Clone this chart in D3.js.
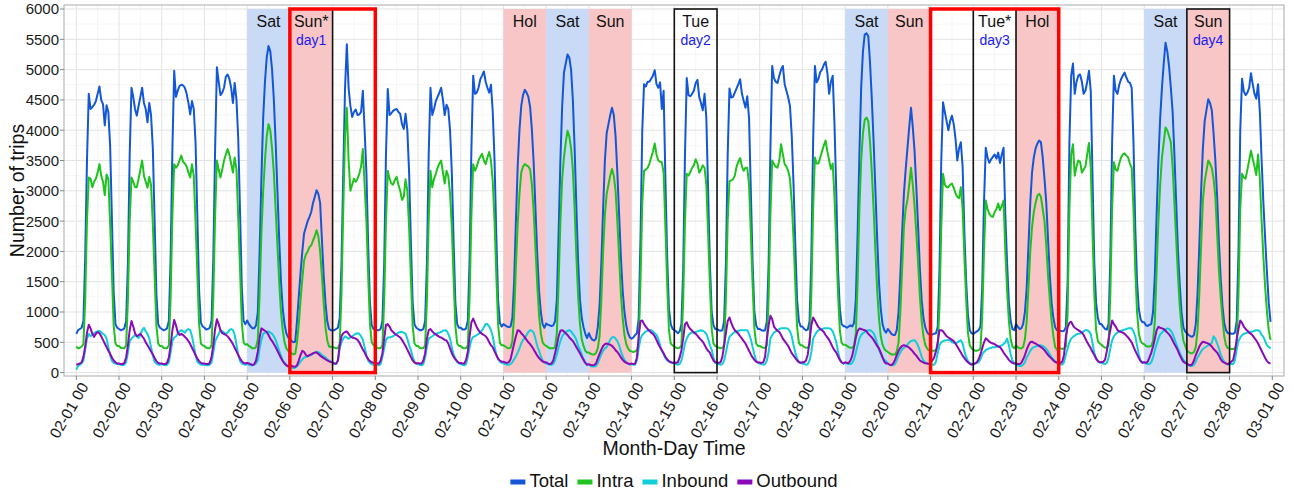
<!DOCTYPE html>
<html>
<head>
<meta charset="utf-8">
<script src="https://cdn.jsdelivr.net/npm/d3@7/dist/d3.min.js"></script>
<style>
  body { margin: 0; background: #fff; }
  text { font-family: "Liberation Sans", Arial, Helvetica, sans-serif; }
</style>
</head>
<body>
<script>
// hourly values, one row per day, 02-01 .. 02-28
var total = [
  640, 700, 720, 740, 850, 1900, 3500, 4600, 4350, 4380, 4420, 4480, 4600, 4720, 4500, 4430, 4080, 4410, 4300, 3750, 2550, 1330, 800, 740,
  720, 700, 710, 730, 850, 1800, 3600, 4700, 4550, 4350, 4240, 4400, 4550, 4700, 4450, 4350, 4130, 4450, 4250, 3700, 2500, 1300, 800, 740,
  720, 700, 710, 730, 850, 1900, 3700, 4980, 4550, 4650, 4730, 4750, 4740, 4700, 4600, 4450, 4260, 4480, 4350, 3800, 2600, 1350, 820, 760,
  740, 710, 720, 740, 860, 1900, 3700, 5040, 4800, 4580, 4620, 4700, 4880, 4920, 4850, 4700, 4450, 4780, 4500, 3850, 2650, 1400, 850, 800,
  860, 800, 760, 730, 730, 780, 1000, 2000, 3200, 4200, 4800, 5200, 5390, 5300, 5000, 4500, 3800, 3000, 2200, 1500, 1050, 800, 650, 580,
  560, 520, 500, 510, 850, 1250, 1650, 2000, 2300, 2400, 2500, 2570, 2650, 2800, 2900, 3010, 2950, 2800, 2200, 1600, 1150, 850, 720, 700,
  700, 700, 720, 740, 900, 1800, 3300, 4700, 5420, 4700, 4400, 4220, 4300, 4340, 4250, 4260, 4300, 4650, 4000, 3300, 2100, 1150, 780, 720,
  720, 700, 700, 720, 850, 1800, 3600, 4680, 4250, 4280, 4320, 4340, 4350, 4300, 4270, 4100, 4020, 4270, 4000, 3300, 2150, 1150, 800, 740,
  720, 700, 700, 720, 850, 1800, 3600, 4700, 4250, 4350, 4480, 4550, 4620, 4700, 4500, 4250, 4420, 4350, 4000, 3300, 2150, 1150, 800, 740,
  740, 710, 710, 730, 860, 1900, 3700, 4900, 4600, 4620, 4700, 4840, 4900, 4970, 4800, 4700, 4620, 4750, 4300, 3500, 2250, 1200, 820, 760,
  800, 780, 760, 750, 760, 900, 1500, 2500, 3400, 4000, 4400, 4580, 4665, 4620, 4550, 4380, 4000, 3450, 2700, 1950, 1350, 1000, 800, 740,
  810, 790, 780, 770, 780, 850, 1200, 2300, 3500, 4400, 4950, 5100, 5250, 5200, 5000, 4500, 3700, 2700, 1800, 1200, 900, 750, 640, 570,
  650, 580, 540, 530, 560, 750, 1100, 1800, 2700, 3500, 3950, 4100, 4250, 4370, 4250, 3900, 3300, 2600, 1900, 1350, 1000, 780, 650, 580,
  560, 580, 620, 650, 900, 2200, 4000, 4760, 4720, 4800, 4800, 4850, 4900, 4990, 4760, 4700, 4790, 4350, 4650, 3200, 1900, 1050, 800, 720,
  700, 680, 650, 680, 800, 1700, 3600, 4860, 4580, 4560, 4600, 4650, 4780, 4830, 4550, 4450, 4330, 4600, 4200, 3000, 1800, 1000, 780, 720,
  720, 700, 690, 700, 850, 1800, 3600, 4690, 4540, 4550, 4620, 4690, 4760, 4840, 4600, 4480, 4370, 4560, 4200, 3000, 1800, 1000, 780, 720,
  720, 700, 690, 700, 850, 1800, 3700, 5060, 4860, 4800, 4780, 4900, 5000, 5060, 4760, 4650, 4540, 4400, 3900, 3100, 2100, 1200, 850, 760,
  760, 720, 700, 710, 850, 1900, 3800, 5060, 4790, 4850, 4960, 5000, 5080, 5130, 4950, 4600, 4800, 4900, 4100, 3000, 1700, 1050, 800, 770,
  760, 740, 760, 780, 760, 820, 1200, 2300, 3600, 4700, 5300, 5580, 5600, 5550, 5100, 4500, 3800, 3000, 2200, 1500, 1050, 800, 700, 660,
  720, 680, 640, 620, 620, 700, 1000, 1600, 2300, 2950, 3350, 3700, 4050, 4370, 4050, 3650, 3050, 2400, 1700, 1200, 900, 750, 670, 630,
  620, 630, 640, 650, 750, 1700, 3500, 4460, 4300, 4150, 4000, 4150, 4240, 4100, 3860, 3500, 3700, 3800, 3400, 2300, 1500, 950, 700, 650,
  640, 660, 680, 700, 760, 1400, 2800, 3710, 3550, 3460, 3520, 3560, 3600, 3530, 3630, 3460, 3600, 3710, 2600, 1800, 1150, 850, 720, 700,
  800, 760, 720, 730, 800, 1000, 1400, 2100, 2800, 3300, 3550, 3700, 3780, 3830, 3800, 3550, 3200, 2800, 2200, 1600, 1150, 900, 750, 700,
  700, 690, 680, 690, 750, 1500, 3800, 4900, 5100, 4600, 4800, 4900, 4920, 4800, 4600, 4650, 4800, 4980, 4650, 3200, 1800, 1150, 900, 800,
  800, 760, 720, 710, 800, 1900, 3800, 4900, 4650, 4600, 4750, 4840, 4900, 4950, 4870, 4800, 4780, 4700, 3800, 2400, 1500, 1050, 880, 830,
  830, 780, 770, 790, 800, 1000, 1600, 2600, 3500, 4200, 4700, 5100, 5445, 5300, 5050, 4700, 4300, 3600, 2800, 2000, 1450, 1000, 750, 680,
  650, 620, 600, 590, 620, 800, 1300, 2100, 3000, 3700, 4150, 4330, 4510, 4450, 4330, 3950, 3500, 2900, 2150, 1550, 1100, 820, 700, 650,
  650, 640, 640, 660, 850, 2000, 4000, 4850, 4640, 4580, 4620, 4700, 4940, 4760, 4600, 4520, 4760, 4300, 3500, 2800, 2200, 1650, 1150, 836
];
var intra = [
  430, 400, 410, 430, 470, 1200, 2500, 3220, 3200, 3060, 3150, 3200, 3300, 3440, 3250, 3150, 2930, 3270, 3200, 2470, 1630, 780, 480, 440,
  440, 410, 400, 400, 450, 1200, 2500, 3220, 3150, 3060, 3060, 3200, 3350, 3500, 3250, 3150, 3050, 3230, 3100, 2450, 1600, 780, 480, 440,
  440, 410, 400, 400, 450, 1250, 2600, 3440, 3380, 3420, 3500, 3580, 3480, 3450, 3400, 3300, 3220, 3440, 3250, 2500, 1650, 800, 480, 450,
  440, 410, 400, 400, 450, 1250, 2600, 3500, 3350, 3220, 3350, 3500, 3600, 3690, 3600, 3450, 3300, 3550, 3350, 2550, 1700, 820, 500, 460,
  470, 440, 420, 400, 400, 420, 550, 1300, 2300, 3000, 3500, 3900, 4100, 4000, 3700, 3300, 2700, 2100, 1500, 1000, 700, 500, 400, 360,
  340, 320, 300, 310, 500, 800, 1200, 1550, 1850, 1950, 2000, 2070, 2100, 2180, 2250, 2350, 2250, 2000, 1600, 1150, 750, 530, 430, 420,
  430, 410, 400, 400, 480, 1300, 2700, 3900, 4370, 3500, 3000, 3100, 3200, 3150, 3200, 3280, 3400, 3690, 3100, 2500, 1600, 800, 500, 450,
  440, 410, 400, 400, 450, 1200, 2500, 3330, 3200, 3120, 3100, 3180, 3230, 3100, 3000, 2850, 2900, 3190, 3000, 2400, 1550, 770, 480, 440,
  440, 410, 400, 400, 450, 1200, 2500, 3330, 3060, 3200, 3280, 3380, 3450, 3500, 3300, 3120, 3330, 3250, 2950, 2400, 1550, 770, 480, 440,
  440, 410, 400, 400, 450, 1250, 2600, 3440, 3330, 3400, 3500, 3560, 3610, 3500, 3440, 3550, 3640, 3500, 3150, 2500, 1600, 790, 490, 450,
  450, 430, 410, 400, 410, 520, 950, 1750, 2450, 2950, 3300, 3400, 3440, 3420, 3400, 3350, 3100, 2650, 2050, 1450, 950, 650, 500, 460,
  440, 420, 400, 400, 400, 420, 650, 1500, 2500, 3200, 3550, 3800, 3990, 3900, 3700, 3350, 2700, 1900, 1250, 800, 550, 440, 360, 330,
  330, 310, 300, 300, 320, 400, 600, 1200, 2000, 2600, 2950, 3100, 3250, 3360, 3250, 3000, 2500, 1900, 1300, 900, 620, 470, 400, 360,
  350, 340, 350, 370, 480, 1500, 2800, 3330, 3350, 3380, 3450, 3550, 3650, 3780, 3600, 3500, 3480, 3470, 3300, 2400, 1450, 700, 480, 450,
  430, 410, 400, 410, 450, 1200, 2500, 3280, 3250, 3310, 3380, 3420, 3520, 3450, 3300, 3350, 3420, 3380, 3100, 2300, 1450, 720, 480, 440,
  430, 410, 400, 410, 450, 1200, 2500, 3160, 3170, 3190, 3250, 3400, 3480, 3540, 3400, 3330, 3380, 3380, 3100, 2300, 1450, 720, 480, 440,
  440, 420, 410, 410, 450, 1250, 2600, 3500, 3440, 3400, 3380, 3500, 3770, 3600, 3440, 3400, 3330, 3200, 2800, 2200, 1450, 750, 490, 450,
  450, 420, 410, 410, 460, 1300, 2700, 3550, 3450, 3450, 3550, 3650, 3750, 3830, 3650, 3500, 3360, 3450, 2900, 2100, 1300, 700, 490, 460,
  460, 440, 420, 410, 410, 440, 650, 1500, 2700, 3500, 3950, 4170, 4210, 4150, 3800, 3300, 2700, 2000, 1350, 900, 600, 460, 390, 360,
  340, 320, 300, 300, 300, 350, 500, 1000, 1700, 2400, 2700, 2850, 3100, 3380, 3100, 2750, 2300, 1800, 1250, 850, 600, 460, 400, 370,
  370, 360, 360, 370, 420, 1100, 2400, 3280, 3100, 3060, 3060, 3100, 3120, 3050, 2960, 2900, 2880, 3060, 2700, 1900, 1200, 650, 450, 400,
  380, 360, 360, 370, 400, 900, 2000, 2840, 2700, 2620, 2580, 2570, 2650, 2700, 2790, 2680, 2750, 2840, 2000, 1350, 850, 550, 430, 400,
  450, 420, 400, 400, 420, 550, 850, 1400, 2000, 2400, 2650, 2800, 2920, 2950, 2900, 2700, 2500, 2100, 1600, 1200, 850, 600, 420, 380,
  420, 400, 390, 400, 430, 1000, 2700, 3600, 3770, 3250, 3400, 3500, 3480, 3300, 3350, 3400, 3600, 3790, 3380, 2300, 1300, 700, 520, 480,
  460, 430, 410, 410, 450, 1300, 2700, 3470, 3350, 3330, 3450, 3550, 3600, 3620, 3580, 3550, 3450, 3380, 2700, 1700, 1000, 650, 520, 480,
  470, 440, 430, 430, 440, 520, 850, 1700, 2500, 3100, 3550, 3800, 4045, 4000, 3900, 3800, 3400, 2800, 2200, 1600, 1100, 750, 530, 450,
  360, 340, 320, 320, 340, 420, 700, 1300, 2100, 2850, 3150, 3330, 3500, 3450, 3380, 3200, 2900, 2300, 1700, 1250, 900, 600, 450, 400,
  400, 390, 390, 400, 460, 1300, 2700, 3280, 3220, 3200, 3350, 3500, 3660, 3530, 3400, 3260, 3600, 3200, 2500, 1900, 1400, 1000, 700, 540
];
var inbound = [
  50, 110, 130, 150, 200, 380, 560, 640, 600, 620, 650, 670, 680, 690, 660, 640, 620, 560, 420, 290, 190, 160, 150, 140,
  140, 130, 120, 130, 170, 330, 520, 560, 590, 620, 600, 570, 620, 700, 740, 680, 640, 560, 420, 280, 180, 150, 130, 130,
  140, 130, 120, 130, 170, 330, 520, 580, 600, 640, 680, 700, 680, 660, 700, 720, 700, 600, 450, 290, 180, 150, 130, 130,
  130, 120, 120, 130, 170, 330, 520, 580, 640, 700, 680, 660, 640, 660, 700, 720, 700, 620, 460, 300, 190, 150, 140, 130,
  140, 130, 120, 120, 130, 150, 200, 400, 540, 640, 660, 670, 680, 660, 640, 600, 540, 450, 360, 280, 200, 160, 130, 110,
  100, 80, 70, 80, 100, 140, 180, 220, 250, 260, 270, 280, 290, 310, 330, 345, 340, 320, 290, 270, 250, 220, 200, 180,
  160, 140, 140, 200, 400, 500, 560, 600, 580, 560, 580, 600, 620, 640, 650, 640, 600, 540, 420, 290, 200, 160, 140, 130,
  140, 130, 120, 140, 260, 400, 540, 580, 580, 590, 600, 620, 640, 660, 670, 670, 660, 640, 560, 450, 370, 260, 180, 145,
  140, 130, 120, 140, 250, 420, 560, 580, 600, 620, 640, 650, 660, 670, 690, 700, 690, 640, 560, 420, 300, 230, 170, 150,
  140, 130, 120, 140, 260, 420, 540, 590, 600, 620, 640, 660, 700, 750, 800, 800, 760, 700, 600, 430, 300, 220, 180, 160,
  150, 140, 130, 130, 140, 170, 220, 270, 330, 400, 480, 540, 570, 620, 670, 700, 690, 660, 560, 440, 360, 270, 200, 170,
  150, 140, 130, 130, 140, 200, 300, 420, 520, 600, 640, 670, 690, 700, 680, 640, 600, 540, 440, 380, 300, 220, 160, 130,
  130, 110, 100, 100, 110, 150, 230, 300, 360, 400, 420, 480, 540, 580, 590, 560, 520, 450, 350, 270, 210, 170, 150, 130,
  140, 130, 130, 200, 400, 560, 620, 650, 680, 690, 700, 700, 680, 650, 620, 560, 450, 360, 300, 240, 200, 180, 170, 160,
  150, 140, 130, 140, 200, 330, 480, 560, 620, 650, 660, 670, 670, 680, 690, 700, 690, 670, 640, 560, 450, 380, 250, 160,
  150, 140, 130, 140, 200, 330, 480, 590, 620, 650, 670, 680, 690, 700, 700, 700, 700, 700, 640, 550, 420, 300, 200, 160,
  150, 140, 130, 140, 200, 340, 560, 620, 660, 680, 700, 720, 730, 730, 730, 730, 720, 680, 600, 450, 330, 230, 180, 160,
  150, 140, 130, 140, 200, 340, 560, 620, 670, 700, 710, 720, 730, 730, 730, 730, 720, 680, 600, 500, 350, 220, 170, 150,
  160, 150, 140, 140, 160, 220, 330, 450, 560, 620, 650, 670, 690, 700, 700, 680, 650, 580, 480, 380, 310, 250, 210, 190,
  150, 130, 120, 120, 140, 200, 280, 330, 380, 410, 430, 460, 500, 520, 530, 535, 500, 440, 360, 260, 200, 170, 150, 140,
  140, 130, 130, 180, 320, 450, 500, 520, 530, 535, 540, 530, 500, 490, 480, 500, 520, 535, 480, 350, 260, 190, 160, 145,
  140, 150, 160, 170, 220, 300, 340, 370, 390, 400, 410, 420, 420, 425, 430, 440, 450, 470, 500, 560, 450, 300, 200, 150,
  150, 120, 110, 110, 130, 170, 250, 300, 360, 400, 420, 430, 440, 450, 450, 440, 420, 390, 350, 300, 250, 220, 190, 170,
  160, 140, 130, 170, 300, 400, 500, 560, 590, 610, 630, 640, 645, 660, 680, 700, 700, 680, 640, 480, 320, 240, 190, 170,
  160, 150, 140, 160, 250, 400, 530, 600, 640, 660, 680, 690, 700, 710, 720, 730, 730, 730, 680, 600, 450, 300, 200, 170,
  170, 150, 140, 140, 170, 250, 370, 470, 560, 630, 660, 690, 710, 730, 720, 690, 640, 560, 480, 400, 330, 260, 210, 180,
  140, 120, 110, 110, 130, 180, 250, 300, 350, 390, 410, 430, 450, 470, 490, 600, 560, 480, 400, 300, 230, 180, 150, 130,
  150, 140, 140, 200, 380, 520, 580, 620, 640, 650, 660, 670, 675, 680, 690, 700, 700, 680, 620, 590, 520, 450, 420, 400
];
var outbound = [
  130, 140, 150, 170, 260, 430, 660, 790, 730, 640, 590, 640, 670, 650, 600, 540, 480, 420, 360, 310, 250, 200, 170, 150,
  150, 140, 140, 160, 250, 450, 700, 850, 760, 650, 600, 620, 640, 600, 560, 500, 450, 400, 350, 300, 240, 190, 160, 150,
  150, 140, 140, 160, 250, 450, 700, 870, 780, 660, 620, 640, 620, 590, 560, 520, 470, 410, 350, 290, 230, 190, 160, 150,
  150, 140, 140, 160, 260, 460, 720, 880, 800, 700, 650, 640, 620, 600, 560, 520, 470, 410, 350, 290, 230, 190, 160, 150,
  160, 150, 140, 125, 140, 200, 350, 580, 730, 710, 690, 670, 620, 560, 520, 470, 420, 360, 300, 240, 190, 150, 120, 100,
  120, 110, 100, 95, 120, 200, 290, 360, 340, 290, 270, 290, 300, 320, 330, 330, 310, 280, 260, 240, 220, 200, 185, 175,
  170, 150, 150, 200, 450, 600, 650, 670, 680, 640, 600, 580, 570, 560, 540, 500, 440, 380, 330, 270, 220, 190, 170, 160,
  165, 150, 150, 200, 320, 560, 790, 800, 760, 700, 670, 640, 620, 600, 580, 540, 490, 440, 380, 320, 260, 200, 165, 155,
  155, 150, 150, 200, 320, 560, 700, 720, 680, 650, 630, 610, 590, 580, 560, 540, 530, 480, 400, 320, 260, 220, 190, 160,
  160, 150, 150, 210, 350, 600, 830, 890, 820, 750, 700, 660, 640, 620, 600, 560, 500, 450, 420, 350, 290, 230, 200, 180,
  180, 165, 160, 170, 220, 350, 480, 600, 700, 690, 650, 620, 580, 540, 500, 470, 430, 380, 330, 280, 240, 210, 185, 170,
  170, 150, 140, 150, 200, 320, 450, 600, 690, 700, 680, 650, 620, 580, 550, 520, 470, 420, 370, 320, 260, 210, 160, 130,
  140, 125, 120, 125, 150, 230, 310, 380, 440, 470, 480, 470, 460, 440, 410, 370, 340, 300, 250, 210, 180, 160, 150, 140,
  150, 140, 150, 250, 600, 850, 860, 800, 760, 720, 690, 660, 640, 600, 540, 470, 420, 370, 320, 260, 220, 190, 170, 160,
  170, 160, 170, 250, 370, 560, 800, 830, 760, 720, 690, 660, 640, 610, 570, 540, 510, 460, 400, 360, 330, 260, 200, 170,
  170, 160, 170, 260, 450, 650, 850, 910, 820, 750, 700, 670, 640, 600, 560, 520, 480, 420, 360, 300, 250, 210, 180, 165,
  165, 160, 170, 260, 550, 780, 940, 880, 760, 720, 690, 670, 620, 560, 520, 480, 440, 380, 320, 280, 240, 200, 170, 160,
  170, 170, 200, 300, 520, 780, 910, 860, 800, 750, 720, 700, 670, 620, 580, 540, 480, 420, 370, 330, 270, 210, 170, 150,
  170, 160, 160, 200, 280, 420, 580, 690, 727, 720, 710, 700, 680, 640, 610, 580, 540, 490, 440, 400, 330, 250, 180, 150,
  150, 130, 125, 150, 210, 290, 360, 410, 440, 453, 440, 430, 410, 380, 350, 310, 280, 240, 200, 180, 165, 155, 150, 145,
  160, 200, 250, 350, 500, 700, 700, 680, 640, 600, 580, 560, 540, 520, 480, 430, 380, 330, 280, 240, 200, 170, 145, 130,
  140, 150, 170, 220, 300, 400, 500, 565, 540, 510, 490, 480, 470, 450, 430, 420, 380, 330, 290, 250, 210, 180, 160, 150,
  150, 140, 140, 160, 220, 290, 380, 450, 500, 510, 490, 480, 460, 440, 420, 400, 370, 330, 290, 260, 230, 200, 175, 165,
  165, 160, 180, 300, 600, 750, 820, 840, 780, 740, 720, 700, 680, 660, 620, 560, 500, 450, 400, 340, 290, 230, 190, 170,
  170, 180, 210, 350, 550, 700, 860, 800, 760, 700, 680, 670, 660, 640, 610, 580, 540, 500, 430, 360, 300, 240, 190, 160,
  170, 160, 180, 250, 330, 430, 560, 700, 755, 740, 730, 720, 690, 660, 630, 590, 530, 470, 420, 360, 290, 230, 180, 160,
  150, 130, 120, 140, 200, 290, 360, 430, 480, 508, 500, 490, 480, 460, 430, 390, 360, 330, 280, 220, 180, 165, 150, 140,
  160, 180, 210, 350, 550, 720, 860, 820, 760, 720, 690, 660, 640, 610, 570, 530, 480, 420, 360, 300, 240, 190, 160, 150
];

var seriesNames = ["Total", "Intra", "Inbound", "Outbound"];
var seriesColors = ["#1457d6", "#1fc21f", "#10cfd8", "#8a0ab8"];

// shaded days (day index from 02-01) and their fill
var bandDay = [4, 5, 10, 11, 12, 18, 19, 22, 25, 26];
var bandKind = ["sat", "sun", "sun", "sat", "sun", "sat", "sun", "sun", "sat", "sun"];
// day names written at the top
var labelDay = [4, 5, 10, 11, 12, 14, 18, 19, 21, 22, 25, 26];
var labelText = ["Sat", "Sun*", "Hol", "Sat", "Sun", "Tue", "Sat", "Sun", "Tue*", "Hol", "Sat", "Sun"];
// sample days
var caseDay = [5, 14, 21, 26];
var caseText = ["day1", "day2", "day3", "day4"];
// red frames: first day, last day (exclusive)
var redStart = [5, 20];
var redEnd = [7, 23];

var width = 1294, height = 495;
var pLeft = 64, pRight = 1284, pTop = 5, pBottom = 376;
var DAY = 864e5;
var t0 = Date.UTC(2011, 1, 1);

var x = d3.scaleUtc()
    .domain([new Date(t0), new Date(t0 + 28 * DAY)])
    .range([76.3, 1272.3]);
var y = d3.scaleLinear().domain([0, 6000]).range([372.6, 9]);

function dayDate(k) { return new Date(t0 + k * DAY); }
function hourDate(i) { return new Date(t0 + i * 36e5); }

var svg = d3.select("body").append("svg")
    .attr("width", width)
    .attr("height", height);

svg.append("rect")
    .attr("x", pLeft).attr("y", pTop)
    .attr("width", pRight - pLeft).attr("height", pBottom - pTop)
    .attr("fill", "#fff");

// grid
var g = svg.append("g");
var dayTicks = d3.utcDay.range(dayDate(0), dayDate(28.5));
var halfTicks = d3.utcHour.every(12).range(dayDate(-0.2), dayDate(28.3))
    .filter(function(d) { return d.getUTCHours() === 12; });
var yMajor = d3.range(0, 6001, 500);
var yMinor = d3.range(250, 6000, 500);

g.selectAll(".vminor").data(halfTicks).enter().append("line")
    .attr("x1", d => x(d)).attr("x2", d => x(d))
    .attr("y1", pTop).attr("y2", pBottom)
    .attr("stroke", "#f0f0f0").attr("stroke-width", 0.6);
g.selectAll(".hminor").data(yMinor).enter().append("line")
    .attr("x1", pLeft).attr("x2", pRight)
    .attr("y1", d => y(d)).attr("y2", d => y(d))
    .attr("stroke", "#f0f0f0").attr("stroke-width", 0.6);
g.selectAll(".vmajor").data(dayTicks).enter().append("line")
    .attr("x1", d => x(d)).attr("x2", d => x(d))
    .attr("y1", pTop).attr("y2", pBottom)
    .attr("stroke", "#e3e3e3").attr("stroke-width", 1);
g.selectAll(".hmajor").data(yMajor).enter().append("line")
    .attr("x1", pLeft).attr("x2", pRight)
    .attr("y1", d => y(d)).attr("y2", d => y(d))
    .attr("stroke", "#e3e3e3").attr("stroke-width", 1);

// shaded days
svg.append("g").selectAll("rect").data(bandDay).enter().append("rect")
    .attr("x", d => x(dayDate(d)))
    .attr("width", d => x(dayDate(d + 1)) - x(dayDate(d)))
    .attr("y", y(6000))
    .attr("height", y(0) - y(6000))
    .attr("fill", (d, i) => bandKind[i] === "sat" ? "#c8daf5" : "#f8c6c6");

// lines
var allSeries = [total, intra, inbound, outbound];
var line = d3.line()
    .x((d, i) => x(hourDate(i)))
    .y(d => y(d));
svg.append("g").selectAll("path").data(allSeries).enter().append("path")
    .attr("d", line)
    .attr("fill", "none")
    .attr("stroke", (d, i) => seriesColors[i])
    .attr("stroke-width", 2)
    .attr("stroke-linejoin", "round");

// black frames round the sample days, then red frames
svg.append("g").selectAll("rect").data(caseDay).enter().append("rect")
    .attr("x", d => x(dayDate(d)))
    .attr("width", d => x(dayDate(d + 1)) - x(dayDate(d)))
    .attr("y", y(6000))
    .attr("height", y(0) - y(6000))
    .attr("fill", "none")
    .attr("stroke", "#111")
    .attr("stroke-width", 1.6);
svg.append("g").selectAll("rect").data(redStart).enter().append("rect")
    .attr("x", d => x(dayDate(d)))
    .attr("width", (d, i) => x(dayDate(redEnd[i])) - x(dayDate(d)))
    .attr("y", y(6000))
    .attr("height", y(0) - y(6000))
    .attr("fill", "none")
    .attr("stroke", "#ff0000")
    .attr("stroke-width", 3.5);

// day names
svg.append("g").selectAll("text").data(labelDay).enter().append("text")
    .attr("x", d => x(new Date(t0 + (d + 0.5) * DAY)))
    .attr("y", 27)
    .attr("text-anchor", "middle")
    .attr("font-size", "16px")
    .attr("fill", "#111")
    .text((d, i) => labelText[i]);
svg.append("g").selectAll("text").data(caseDay).enter().append("text")
    .attr("x", d => x(new Date(t0 + (d + 0.5) * DAY)))
    .attr("y", 45)
    .attr("text-anchor", "middle")
    .attr("font-size", "14px")
    .attr("fill", "#1a1aee")
    .text((d, i) => caseText[i]);

// panel border
svg.append("rect")
    .attr("x", pLeft).attr("y", pTop)
    .attr("width", pRight - pLeft).attr("height", pBottom - pTop)
    .attr("fill", "none")
    .attr("stroke", "#aaaaaa")
    .attr("stroke-width", 1);

// y axis
var yAxis = svg.append("g");
yAxis.selectAll("line").data(yMajor).enter().append("line")
    .attr("x1", pLeft - 4).attr("x2", pLeft)
    .attr("y1", d => y(d)).attr("y2", d => y(d))
    .attr("stroke", "#888");
yAxis.selectAll("text").data(yMajor).enter().append("text")
    .attr("x", pLeft - 5)
    .attr("y", d => y(d))
    .attr("dy", "0.36em")
    .attr("text-anchor", "end")
    .attr("font-size", "15px")
    .attr("fill", "#1a1a1a")
    .text(d => d);

// x axis
var fmt = d3.utcFormat("%m-%d %H");
var xAxis = svg.append("g");
xAxis.selectAll("line").data(dayTicks).enter().append("line")
    .attr("x1", d => x(d)).attr("x2", d => x(d))
    .attr("y1", pBottom).attr("y2", pBottom + 4)
    .attr("stroke", "#888");
xAxis.selectAll("text").data(dayTicks).enter().append("text")
    .attr("transform", d => "translate(" + (x(d) + 3) + "," + (pBottom + 5) + ") rotate(-60)")
    .attr("dy", "0.72em")
    .attr("text-anchor", "end")
    .attr("font-size", "15.5px")
    .attr("fill", "#1a1a1a")
    .text(d => fmt(d));

// axis titles
svg.append("text")
    .attr("transform", "translate(24," + ((pTop + pBottom) / 2) + ") rotate(-90)")
    .attr("text-anchor", "middle")
    .attr("font-size", "19.5px")
    .attr("fill", "#111")
    .text("Number of trips");
svg.append("text")
    .attr("x", (pLeft + pRight) / 2)
    .attr("y", 455)
    .attr("text-anchor", "middle")
    .attr("font-size", "19.5px")
    .attr("fill", "#111")
    .text("Month-Day Time");

// legend
var legend = svg.append("g");
var items = legend.selectAll("g").data(seriesNames).enter().append("g");
items.append("rect")
    .attr("width", 15).attr("height", 5)
    .attr("y", -7.5)
    .attr("fill", (d, i) => seriesColors[i]);
items.append("text")
    .attr("x", 19)
    .attr("font-size", "18.5px")
    .attr("fill", "#111")
    .text(d => d);
var pos = 0, offsets = [];
items.each(function() {
    offsets.push(pos);
    pos += 19 + this.querySelector("text").getComputedTextLength() + 9;
});
pos -= 9;
var lx = (pLeft + pRight) / 2 - pos / 2;
items.attr("transform", (d, i) => "translate(" + (lx + offsets[i]) + ",487)");
</script>
</body>
</html>
